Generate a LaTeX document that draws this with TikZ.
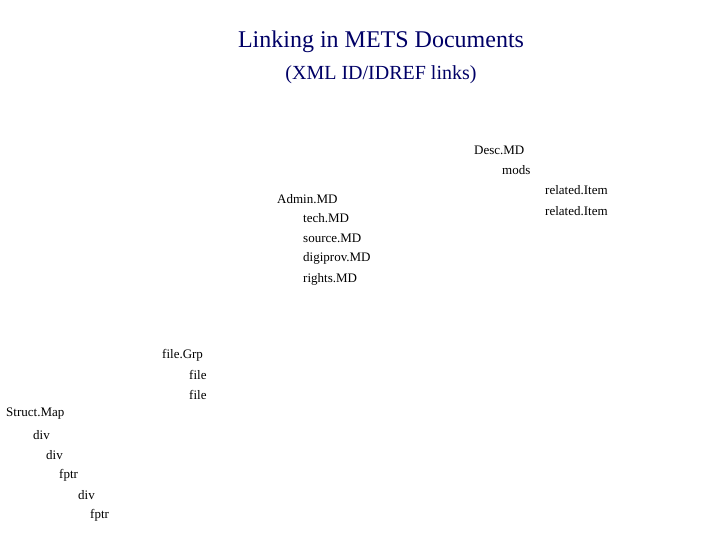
\documentclass[tikz,border=0pt]{standalone}
\usepackage{fontspec}
\setmainfont{Liberation Serif}
\begin{document}
\begin{tikzpicture}[x=1pt,y=-1pt,
  lbl/.style={anchor=west,inner sep=0pt,font=\fontsize{13}{15}\selectfont},
  ttl/.style={inner sep=0pt,text=blue!40!black}]
\useasboundingbox (0,0) rectangle (720,540);
\node[ttl,font=\fontsize{24}{28}\selectfont] (t1) at (381,42) {Linking in METS Documents};
\node[ttl,font=\fontsize{20}{24}\selectfont] (t2) at (381,75) {(XML ID/IDREF links)};
\node[lbl] (d1) at (474,150) {Desc.MD};
\node[lbl] (d2) at (502,170) {mods};
\node[lbl] (d3) at (545,190) {related.Item};
\node[lbl] (d4) at (545,211) {related.Item};
\node[lbl] (a1) at (277,199) {Admin.MD};
\node[lbl] (a2) at (303,218) {tech.MD};
\node[lbl] (a3) at (303,238) {source.MD};
\node[lbl] (a4) at (303,258) {digiprov.MD};
\node[lbl] (a5) at (303,279) {rights.MD};
\node[lbl] (f1) at (162,355) {file.Grp};
\node[lbl] (f2) at (189,375) {file};
\node[lbl] (f3) at (189,395) {file};
\node[lbl] (s1) at (6,414) {Struct.Map};
\node[lbl] (s2) at (33,435) {div};
\node[lbl] (s3) at (46,455) {div};
\node[lbl] (s4) at (59,475) {fptr};
\node[lbl] (s5) at (78,495) {div};
\node[lbl] (s6) at (90,515) {fptr};
\end{tikzpicture}
\end{document}
